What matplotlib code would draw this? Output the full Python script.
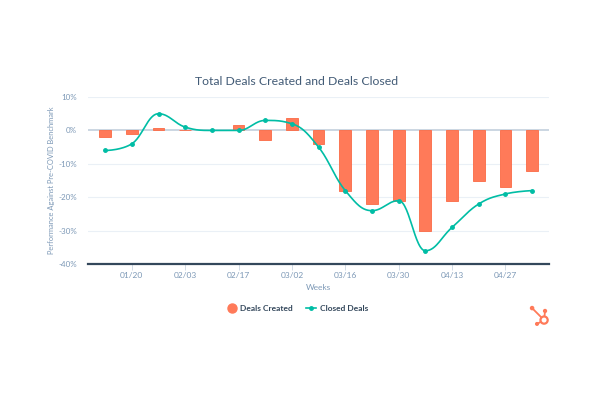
import matplotlib.pyplot as plt
import numpy as np
from matplotlib.lines import Line2D
from matplotlib.patches import Circle

# weekly data, 01/13 .. 05/04
weeks = ['01/13', '01/20', '01/27', '02/03', '02/10', '02/17', '02/24', '03/02',
         '03/09', '03/16', '03/23', '03/30', '04/06', '04/13', '04/20', '04/27', '05/04']
deals_created = [-2, -1, 0.7, 0, 0, 1.7, -3, 3.6, -4, -18, -22, -21, -30, -21, -15, -17, -12]
closed_deals = [-6, -4, 5, 1, 0, 0, 3, 2, -5, -18, -24, -21, -36, -29, -22, -19, -18]
tick_weeks = ['01/20', '02/03', '02/17', '03/02', '03/16', '03/30', '04/13', '04/27']
y_ticks = [10, 0, -10, -20, -30, -40]

ORANGE = '#ff7a59'
TEAL = '#00bda5'
DARK = '#33475b'
GREY = '#7c98b6'


def spline_path(xs, ys, smoothing=1.5, n=30):
    """Highcharts-like spline through the points (cubic bezier segments)."""
    xs = np.asarray(xs, float)
    ys = np.asarray(ys, float)
    denom = smoothing + 1
    m = len(xs)
    lc = np.zeros((m, 2))
    rc = np.zeros((m, 2))
    for i in range(m):
        lc[i] = rc[i] = (xs[i], ys[i])
        if 0 < i < m - 1:
            lx = (smoothing * xs[i] + xs[i - 1]) / denom
            ly = (smoothing * ys[i] + ys[i - 1]) / denom
            rx = (smoothing * xs[i] + xs[i + 1]) / denom
            ry = (smoothing * ys[i] + ys[i + 1]) / denom
            corr = (ry - ly) * (rx - xs[i]) / (rx - lx) + ys[i] - ry
            ly += corr
            ry += corr
            if ly > ys[i - 1] and ly > ys[i]:
                ly = max(ys[i - 1], ys[i])
                ry = 2 * ys[i] - ly
            elif ly < ys[i - 1] and ly < ys[i]:
                ly = min(ys[i - 1], ys[i])
                ry = 2 * ys[i] - ly
            if ry > ys[i + 1] and ry > ys[i]:
                ry = max(ys[i + 1], ys[i])
                ly = 2 * ys[i] - ry
            elif ry < ys[i + 1] and ry < ys[i]:
                ry = min(ys[i + 1], ys[i])
                ly = 2 * ys[i] - ry
            lc[i] = (lx, ly)
            rc[i] = (rx, ry)
    t = np.linspace(0, 1, n)[:, None]
    out = []
    for i in range(1, m):
        p0 = np.array([xs[i - 1], ys[i - 1]])
        p1 = rc[i - 1]
        p2 = lc[i]
        p3 = np.array([xs[i], ys[i]])
        seg = ((1 - t) ** 3) * p0 + 3 * ((1 - t) ** 2) * t * p1 + 3 * (1 - t) * t ** 2 * p2 + t ** 3 * p3
        out.append(seg if i == 1 else seg[1:])
    pts = np.vstack(out)
    return pts[:, 0], pts[:, 1]


x = np.arange(len(weeks))

fig = plt.figure(figsize=(5.95, 3.96), dpi=100)
plt.rcParams['font.family'] = ['Lato', 'DejaVu Sans']
ax = fig.add_axes([0.148, 0.333, 0.775, 0.422])

# bars
ax.bar(x, deals_created, width=0.44, color=ORANGE, edgecolor='#fb6a45', linewidth=0.6, zorder=3)

# smoothed line + markers
sx, sy = spline_path(x, closed_deals)
ax.plot(sx, sy, color=TEAL, linewidth=1.2, zorder=4)
ax.plot(x, closed_deals, linestyle='none', marker='o', markersize=2.5, color=TEAL, zorder=5)

ax.set_xlim(-0.64, len(weeks) - 1 + 0.64)
ax.set_ylim(-40, 10)

# grid / axis lines
for v in y_ticks:
    if v == 0:
        ax.axhline(v, color='#cbd6e2', linewidth=1.4, zorder=2)
    elif v != -40:
        ax.axhline(v, color='#eaf0f6', linewidth=0.8, zorder=1)
for side in ['top', 'right', 'left']:
    ax.spines[side].set_visible(False)
ax.spines['bottom'].set_color(DARK)
ax.spines['bottom'].set_linewidth(1.6)

ax.set_yticks(y_ticks)
ax.set_yticklabels([f'{v}%' for v in y_ticks], fontsize=5.8, color=GREY)
ax.tick_params(axis='y', length=0, pad=8)
ax.set_xticks([weeks.index(w) for w in tick_weeks])
ax.set_xticklabels(tick_weeks, fontsize=6, color=GREY)
ax.tick_params(axis='x', length=4, width=0.6, color='#cbd6e2', pad=2)

ax.set_xlabel('Weeks', fontsize=6, color=GREY, labelpad=3)
ax.set_ylabel('Performance Against Pre-COVID Benchmark', fontsize=5.4, color=GREY)
ax.yaxis.set_label_coords(-0.072, 0.5)
ax.set_title('Total Deals Created and Deals Closed', fontsize=8.8, color='#425b76', pad=9, x=0.453)

# legend
handles = [
    Line2D([], [], linestyle='none', marker='o', markersize=6.5, color=ORANGE),
    Line2D([], [], color=TEAL, linewidth=1.2, marker='o', markersize=2.5),
]
fig.legend(handles, ['Deals Created', 'Closed Deals'], loc='center', bbox_to_anchor=(0.5, 0.22),
           ncol=2, frameon=False, prop={'size': 6, 'weight': 'bold'}, labelcolor=DARK,
           handlelength=1.1, columnspacing=1.6, handletextpad=0.5)

# sprocket logo
lax = fig.add_axes([528 / 595, 1 - 328 / 396, 24 / 595, 24 / 396])
lax.set_xlim(0, 1)
lax.set_ylim(0, 1)
lax.axis('off')
cx, cy = 0.67, 0.33
for px, py, r in [(0.71, 0.71, 0.06), (0.17, 0.83, 0.065), (0.375, 0.17, 0.055)]:
    lax.plot([cx, px], [cy, py], color=ORANGE, linewidth=1.3, solid_capstyle='round')
    lax.add_patch(Circle((px, py), r, color=ORANGE, zorder=3))
lax.add_patch(Circle((cx, cy), 0.15, facecolor='white', edgecolor=ORANGE, linewidth=1.6, zorder=3))

fig.savefig('out.png', dpi=100)
